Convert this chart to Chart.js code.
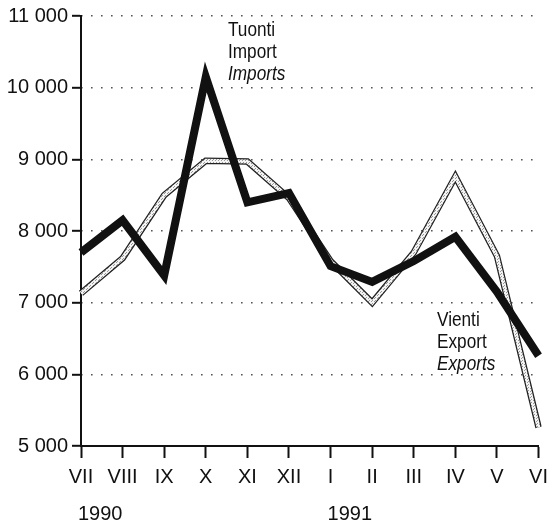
<!DOCTYPE html>
<html>
<head>
<meta charset="utf-8">
<script src="https://cdn.jsdelivr.net/npm/chart.js@4/dist/chart.umd.min.js"></script>
<style>
  html, body { margin: 0; padding: 0; background: #fff; }
</style>
</head>
<body>
<canvas id="tradeChart" width="555" height="524"></canvas>
<script>
/* DATA */
const months = ["VII", "VIII", "IX", "X", "XI", "XII", "I", "II", "III", "IV", "V", "VI"];
const imports = [7700, 8150, 7380, 10150, 8400, 8530, 7510, 7290, 7580, 7920, 7150, 6260];
const exports = [7130, 7620, 8500, 8980, 8970, 8460, 7580, 7000, 7700, 8760, 7650, 5260];
const yearLabels = [{ at: 0, text: "1990" }, { at: 6, text: "1991" }];
const yTicks = [5000, 6000, 7000, 8000, 9000, 10000, 11000];

const SANS = "'Liberation Sans', Arial, sans-serif";

// stippled fill for the export line
function stipple() {
  const c = document.createElement("canvas");
  c.width = 3; c.height = 3;
  const g = c.getContext("2d");
  g.fillStyle = "#f4f4f4";
  g.fillRect(0, 0, 3, 3);
  g.fillStyle = "#999";
  g.fillRect(0, 0, 1, 1);
  g.fillRect(2, 1, 1, 1);
  return g.createPattern(c, "repeat");
}

const fmt = v => String(v).replace(/\B(?=(\d{3})+(?!\d))/g, " ");

/* text labels + years */
const textPlugin = {
  id: "texts",
  afterDraw(chart) {
    const ctx = chart.ctx;
    const x = chart.scales.x;
    ctx.save();
    ctx.fillStyle = "#111";
    ctx.textAlign = "left";
    ctx.textBaseline = "alphabetic";

    // years under month labels
    ctx.font = "20px " + SANS;
    yearLabels.forEach(l => {
      ctx.fillText(l.text, x.getPixelForValue(l.at) - 3, 520);
    });

    // series names (condensed look: squeeze horizontally)
    const block = (lines, px, py) => {
      lines.forEach((ln, i) => {
        ctx.save();
        ctx.translate(px, py + i * 22);
        ctx.scale(0.86, 1);
        ctx.font = (ln.italic ? "italic " : "") + "20px " + SANS;
        ctx.fillText(ln.t, 0, 0);
        ctx.restore();
      });
    };
    block([{ t: "Tuonti" }, { t: "Import" }, { t: "Imports", italic: true }], 228, 36);
    block([{ t: "Vienti" }, { t: "Export" }, { t: "Exports", italic: true }], 437, 326);
    ctx.restore();
  }
};

new Chart(document.getElementById("tradeChart"), {
  type: "line",
  data: {
    labels: months,
    datasets: [
      {
        label: "Tuonti",
        data: imports,
        borderColor: "#111",
        borderWidth: 8,
        borderJoinStyle: "miter",
        pointRadius: 0,
        tension: 0,
        order: 0
      },
      {
        label: "Vienti inner",
        data: exports,
        borderColor: stipple(),
        borderWidth: 4,
        borderJoinStyle: "miter",
        pointRadius: 0,
        tension: 0,
        order: 1
      },
      {
        label: "Vienti",
        data: exports,
        borderColor: "#222",
        borderWidth: 6.5,
        borderJoinStyle: "miter",
        pointRadius: 0,
        tension: 0,
        order: 2
      }
    ]
  },
  options: {
    responsive: false,
    animation: false,
    devicePixelRatio: 1,
    layout: { padding: { top: 14, right: 11, left: 0, bottom: 0 } },
    plugins: { legend: { display: false }, tooltip: { enabled: false } },
    scales: {
      x: {
        offset: false,
        afterFit: s => { s.height = 78; },
        grid: {
          drawOnChartArea: false,
          tickLength: 12,
          tickColor: "#111",
          tickWidth: 2
        },
        border: { color: "#111", width: 2 },
        ticks: {
          color: "#111",
          padding: 7,
          maxRotation: 0,
          autoSkip: false,
          font: { family: SANS, size: 20 }
        }
      },
      y: {
        min: 5000,
        max: 11000,
        afterFit: s => { s.width = 81; },
        afterBuildTicks: s => { s.ticks = yTicks.map(v => ({ value: v })); },
        grid: {
          color: "#555",
          lineWidth: 1.6,
          tickLength: 9,
          tickColor: "#111",
          tickWidth: 2
        },
        border: { color: "#111", width: 2, dash: [1.6, 8.4], dashOffset: -9 },
        ticks: {
          color: "#111",
          padding: 4,
          callback: v => fmt(v),
          font: { family: SANS, size: 20 }
        }
      }
    }
  },
  plugins: [textPlugin]
});
</script>
</body>
</html>
